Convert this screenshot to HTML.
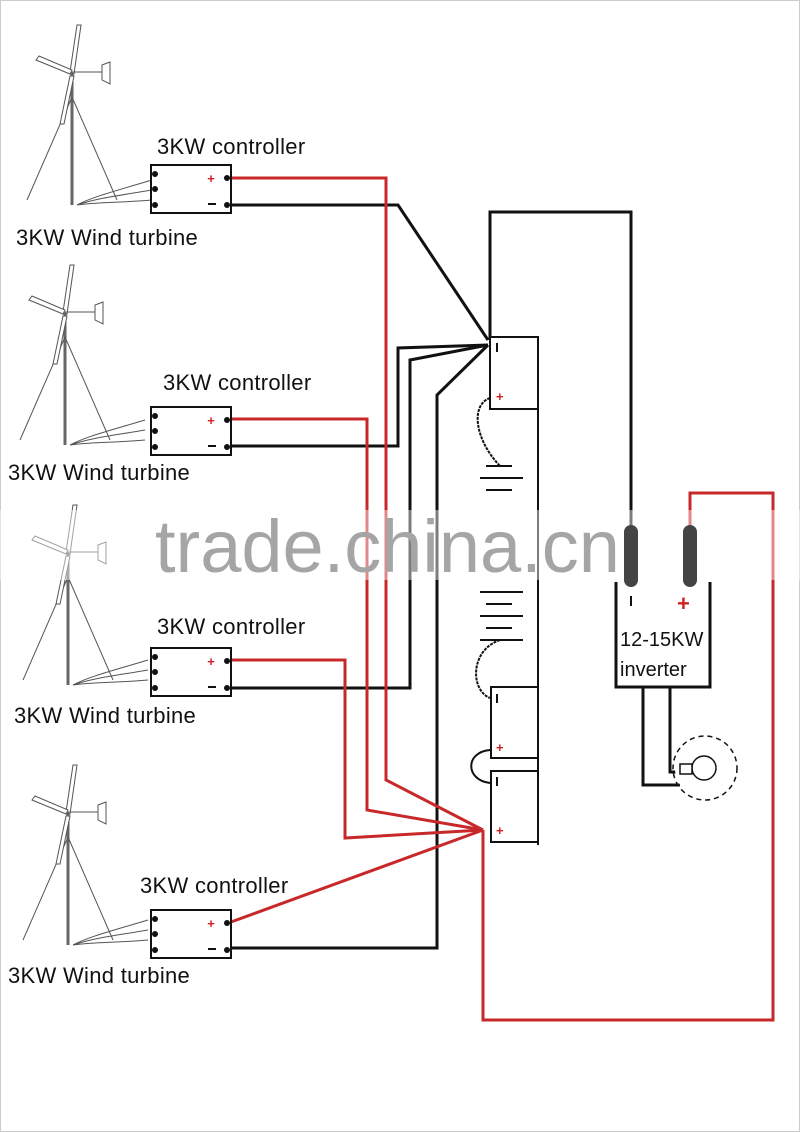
<!DOCTYPE html>
<html><head><meta charset="utf-8"><style>
html,body{margin:0;padding:0;background:#fff}
svg{display:block}
text{font-family:"Liberation Sans",sans-serif}
</style></head><body>
<svg width="800" height="1132" viewBox="0 0 800 1132" xmlns="http://www.w3.org/2000/svg">
<rect x="0.5" y="0.5" width="799" height="1131" fill="#fff" stroke="#ccc"/>
<defs>
<g id="turb" stroke="#555" fill="none" stroke-width="1">
  <line x1="0" y1="0" x2="0" y2="133" stroke-width="3" stroke="#666"/>
  <line x1="0" y1="25" x2="-45" y2="128"/>
  <line x1="0" y1="25" x2="45" y2="128"/>
  <path d="M-2,0 L5,-47 L9,-47 L2,2 Z" fill="#fff"/>
  <path d="M-2,2 L-36,-12 L-33,-16 L0,-2 Z" fill="#fff"/>
  <path d="M-2,4 L-12,52 L-8,52 L2,4 Z" fill="#fff"/>
  <line x1="0" y1="0" x2="30" y2="0"/>
  <path d="M30,-7 L38,-10 L38,12 L30,8 Z" fill="#fff"/>
  <path d="M5,133 C20,125 40,120 80,108 M5,133 C25,126 45,124 80,118 M5,133 C25,130 45,131 80,128"/>
</g>
<g id="ctrl">
  <rect x="0" y="0" width="80" height="48" fill="#fff" stroke="#111" stroke-width="2"/>
  <circle cx="4" cy="9" r="3" fill="#111"/><circle cx="4" cy="24" r="3" fill="#111"/><circle cx="4" cy="40" r="3" fill="#111"/>
  <circle cx="76" cy="13" r="3" fill="#111"/><circle cx="76" cy="40" r="3" fill="#111"/>
  <text x="60" y="18" font-size="13" fill="#c22" text-anchor="middle" font-weight="bold">+</text>
  <line x1="57" y1="39" x2="65" y2="39" stroke="#111" stroke-width="2"/>
</g>
</defs>

<use href="#turb" x="72" y="72"/>
<use href="#turb" x="65" y="312"/>
<use href="#turb" x="68" y="552"/>
<use href="#turb" x="68" y="812"/>

<g font-size="22" fill="#111" letter-spacing="0.3">
<text x="157" y="154">3KW controller</text>
<text x="16" y="245">3KW Wind turbine</text>
<text x="163" y="390">3KW controller</text>
<text x="8" y="480">3KW Wind turbine</text>
<text x="157" y="634">3KW controller</text>
<text x="14" y="723">3KW Wind turbine</text>
<text x="140" y="893">3KW controller</text>
<text x="8" y="983">3KW Wind turbine</text>
</g>

<g fill="none" stroke-width="3" stroke-linejoin="miter">
<polyline stroke="#111" points="231,205 398,205 488,340"/>
<polyline stroke="#111" points="231,446 398,446 398,348 488,345"/>
<polyline stroke="#111" points="231,688 410,688 410,360 488,345"/>
<polyline stroke="#111" points="231,948 437,948 437,395 488,345"/>
<polyline stroke="#111" points="631,585 631,212 490,212 490,340"/>
<polyline stroke="#c8282a" points="231,178 386,178 386,780 483,830"/>
<polyline stroke="#c8282a" points="231,419 367,419 367,810 483,830"/>
<polyline stroke="#c8282a" points="231,660 345,660 345,838 483,830"/>
<polyline stroke="#c8282a" points="231,922 483,830"/>
<polyline stroke="#c8282a" points="690,585 690,493 773,493 773,1020 483,1020 483,830"/>
</g>

<use href="#ctrl" x="151" y="165"/>
<use href="#ctrl" x="151" y="407"/>
<use href="#ctrl" x="151" y="648"/>
<use href="#ctrl" x="151" y="910"/>

<g fill="none" stroke="#111" stroke-width="2">
<line x1="538" y1="337" x2="538" y2="845"/>
<rect x="490" y="337" width="48" height="72" fill="#fff"/>
<rect x="491" y="687" width="47" height="71" fill="#fff"/>
<rect x="491" y="771" width="47" height="71" fill="#fff"/>
<path d="M490,398 C470,405 475,440 500,466" stroke-dasharray="3 1"/>
<line x1="486" y1="466" x2="512" y2="466"/><line x1="480" y1="478" x2="523" y2="478"/><line x1="486" y1="490" x2="512" y2="490"/>
<line x1="480" y1="592" x2="523" y2="592"/><line x1="486" y1="604" x2="512" y2="604"/><line x1="480" y1="616" x2="523" y2="616"/><line x1="486" y1="628" x2="512" y2="628"/><line x1="480" y1="640" x2="523" y2="640"/>
<path d="M500,640 C470,650 470,690 490,698" stroke-dasharray="3 1"/>
<path d="M490,750 C465,752 465,780 490,783"/>
</g>
<g font-size="13" fill="#c22" font-weight="bold">
<text x="496" y="401">+</text><text x="496" y="752">+</text><text x="496" y="835">+</text>
</g>
<g stroke="#111" stroke-width="2"><line x1="497" y1="343" x2="497" y2="352"/><line x1="497" y1="694" x2="497" y2="703"/><line x1="497" y1="777" x2="497" y2="786"/></g>

<rect x="0" y="510" width="800" height="70" fill="#fff" opacity="0.45"/>
<text x="155" y="572" font-size="74" fill="#a5a5a5">trade.china.cn</text>

<g fill="none" stroke="#111" stroke-width="3">
<polyline points="616,582 616,687 710,687 710,582"/>
<polyline points="643,687 643,785 680,785"/>
<polyline points="670,687 670,772 685,772"/>
</g>
<rect x="624" y="525" width="14" height="62" rx="7" fill="#444"/>
<rect x="683" y="525" width="14" height="62" rx="7" fill="#444"/>
<line x1="631" y1="596" x2="631" y2="606" stroke="#111" stroke-width="2"/>
<text x="677" y="611" font-size="22" fill="#c22" font-weight="bold">+</text>
<text x="620" y="646" font-size="20" fill="#111">12-15KW</text>
<text x="620" y="676" font-size="20" fill="#111">inverter</text>
<circle cx="704" cy="768" r="12" fill="#fff" stroke="#111" stroke-width="1.5"/>
<g stroke="#111" stroke-width="1.5" stroke-dasharray="5 4" fill="none"><circle cx="705" cy="768" r="32"/></g>
<circle cx="705" cy="768" r="25" fill="none" stroke="#fff" stroke-width="10"/>
<rect x="680" y="764" width="12" height="10" fill="#fff" stroke="#111" stroke-width="1.5"/>
</svg>
</body></html>
